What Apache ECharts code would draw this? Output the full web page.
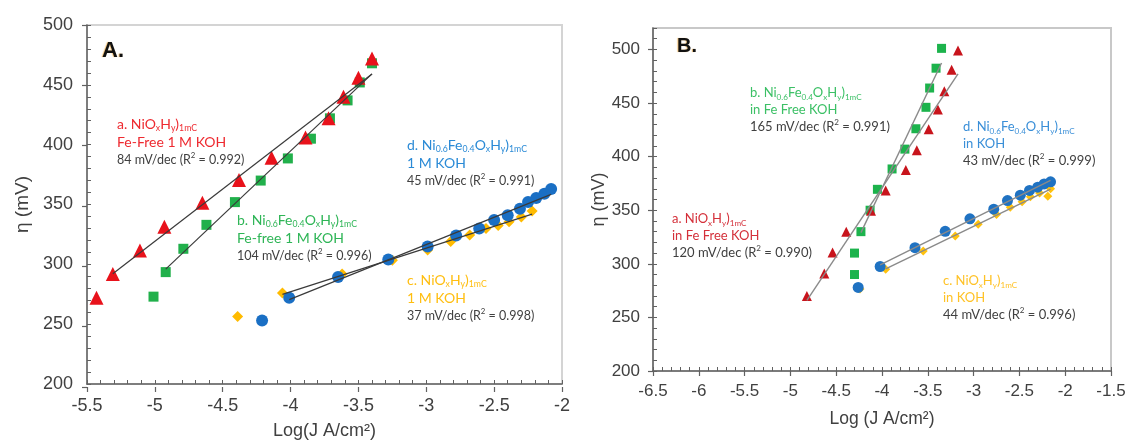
<!DOCTYPE html>
<html>
<head>
<meta charset="utf-8">
<script src="https://cdn.jsdelivr.net/npm/echarts@6/dist/echarts.min.js"></script>
<style>
  html, body { margin: 0; padding: 0; background: #fff; }
  #chart { width: 1129px; height: 445px; }
</style>
</head>
<body>
<div id="chart"></div>
<script>
// --- panel A data (log J, overpotential mV) ---
const aRedX = [-5.43, -5.31, -5.11, -4.93, -4.65, -4.38, -4.14, -3.89, -3.72, -3.61, -3.50, -3.40];
const aRedY = [272, 292, 311.5, 331.5, 351.5, 370.5, 389, 406, 422, 440, 456, 472];
const aGreenX = [-5.01, -4.92, -4.79, -4.62, -4.41, -4.22, -4.02, -3.85, -3.71, -3.58, -3.49, -3.40];
const aGreenY = [273, 293.5, 313, 333, 352, 370, 388.5, 405, 422, 437, 452, 468];
const aYellowX = [-4.39, -4.06, -3.62, -3.25, -2.99, -2.82, -2.68, -2.56, -2.47, -2.39, -2.30, -2.22];
const aYellowY = [256.5, 276, 292, 303.5, 312, 319, 324.5, 330, 332.5, 335.5, 339.5, 344.5];
const aBlueX = [-4.21, -4.01, -3.65, -3.28, -2.99, -2.78, -2.61, -2.50, -2.40, -2.31, -2.25, -2.19, -2.13, -2.08];
const aBlueY = [253, 272, 289.5, 304, 315, 324, 330, 337, 341, 346.5, 352, 355.5, 359, 363];

// --- panel B data ---
const bRedX = [-4.82, -4.63, -4.54, -4.39, -4.12, -3.96, -3.74, -3.62, -3.49, -3.39, -3.32, -3.24, -3.17];
const bRedY = [270, 291, 310.5, 330, 349.5, 368.5, 387.5, 406, 425.5, 444, 461, 481, 499];
const bGreenX = [-4.30, -4.30, -4.23, -4.13, -4.05, -3.89, -3.75, -3.63, -3.52, -3.48, -3.41, -3.35];
const bGreenY = [290, 310, 330, 350, 369.5, 388.5, 407, 426, 446, 464, 482.5, 501];
const bYellowX = [-4.24, -3.96, -3.55, -3.20, -2.95, -2.75, -2.60, -2.47, -2.38, -2.28, -2.19, -2.16];
const bYellowY = [276.5, 295, 312, 326, 336.8, 346, 352.7, 358, 362.5, 366, 363, 370];
const bBlueX = [-4.26, -4.02, -3.64, -3.31, -3.04, -2.78, -2.63, -2.49, -2.39, -2.30, -2.23, -2.16];
const bBlueY = [278, 297.5, 315, 330.3, 342, 351, 359, 364, 368.5, 371.5, 374.5, 376.5];

// first point used by each trendline
const fitFrom = { aRed: 1, aGreen: 1, aYellow: 1, aBlue: 1, bRed: 0, bGreen: 2, bYellow: 1, bBlue: 1 };

// --- tick labels ---
const aXTicks = [-5.5, -5, -4.5, -4, -3.5, -3, -2.5, -2];
const aYTicks = [200, 250, 300, 350, 400, 450, 500];
const bXTicks = [-6.5, -6, -5.5, -5, -4.5, -4, -3.5, -3, -2.5, -2, -1.5];
const bYTicks = [200, 250, 300, 350, 400, 450, 500];

const chart = echarts.init(document.getElementById('chart'));

function zip(xs, ys) {
  return xs.map((x, i) => [x, ys[i]]);
}

// least squares line over the points from index `from`
function fitLine(xs, ys, from) {
  const x = xs.slice(from), y = ys.slice(from);
  const n = x.length;
  const mx = x.reduce((s, v) => s + v, 0) / n;
  const my = y.reduce((s, v) => s + v, 0) / n;
  let sxy = 0, sxx = 0;
  for (let i = 0; i < n; i++) {
    sxy += (x[i] - mx) * (y[i] - my);
    sxx += (x[i] - mx) * (x[i] - mx);
  }
  const k = sxy / sxx, b = my - k * mx;
  const x0 = Math.min(...x), x1 = Math.max(...x);
  return [[x0, k * x0 + b], [x1, k * x1 + b]];
}

const AXIS_COLOR = '#616161';
const LABEL_COLOR = '#404040';
const FONT = '"Liberation Sans", Arial, sans-serif';
const NOTE_FONT = 'Lato, "Open Sans", sans-serif';

function mainAxis(grid, min, max, step, ticks, fontSize, margin, extra) {
  return Object.assign({
    type: 'value', gridIndex: grid, min: min, max: max, interval: step,
    axisLine: { show: true, onZero: false, lineStyle: { color: AXIS_COLOR, width: 1.5 } },
    axisTick: { show: true, inside: true, length: 4, lineStyle: { color: AXIS_COLOR, width: 1 } },
    axisLabel: { customValues: ticks, color: LABEL_COLOR, fontSize: fontSize, fontFamily: FONT, margin: margin },
    splitLine: { show: false }
  }, extra || {});
}

// second copy of an axis that only draws the outer half of the major ticks
function outerTicks(grid, min, max, ticks, isY) {
  return {
    type: 'value', gridIndex: grid, min: min, max: max,
    position: isY ? 'left' : 'bottom',
    axisLine: { show: false, onZero: false },
    axisTick: { show: true, inside: false, length: 5, customValues: ticks, lineStyle: { color: AXIS_COLOR, width: 1.2 } },
    axisLabel: { show: false },
    splitLine: { show: false }
  };
}

function scatter(name, xi, yi, xs, ys, symbol, size, color) {
  return {
    name: name, type: 'scatter', xAxisIndex: xi, yAxisIndex: yi,
    data: zip(xs, ys), symbol: symbol, symbolSize: size,
    itemStyle: { color: color, opacity: 1 }, z: 3
  };
}

function trend(xi, yi, xs, ys, from, color, width) {
  return {
    type: 'line', xAxisIndex: xi, yAxisIndex: yi,
    data: fitLine(xs, ys, from), showSymbol: false, symbol: 'none',
    lineStyle: { color: color, width: width }, z: 5, silent: true
  };
}

// rich text styles for the notes (graphic text uses zrender "fill")
function noteRich(color, size, graySize) {
  const sub = Math.round(size * 0.62 * 10) / 10;
  const gsub = Math.round(graySize * 0.62 * 10) / 10;
  return {
    t: { fill: color, fontSize: size, fontFamily: NOTE_FONT, lineHeight: size + 4 },
    s: { fill: color, fontSize: sub, fontFamily: NOTE_FONT, verticalAlign: 'bottom', lineHeight: sub + 1 },
    g: { fill: '#404040', fontSize: graySize, fontFamily: NOTE_FONT, lineHeight: size + 4 },
    sup: { fill: '#404040', fontSize: gsub, fontFamily: NOTE_FONT, verticalAlign: 'top', lineHeight: gsub + 1 }
  };
}

function note(left, top, lines, color, size, graySize) {
  return {
    type: 'text', left: left, top: top, z: 10,
    style: { text: lines.join('\n'), fill: color, rich: noteRich(color, size, graySize) }
  };
}

const NIOX = '{t|NiO}{s|x}{t|H}{s|y}{t|)}{s|1mC}';
const NIFE = '{t|Ni}{s|0.6}{t|Fe}{s|0.4}{t|O}{s|x}{t|H}{s|y}{t|)}{s|1mC}';
function slope(mv, r2) {
  return '{g|' + mv + ' mV/dec (R}{sup|2}{g| = ' + r2 + ')}';
}

const option = {
  animation: false,
  backgroundColor: '#fff',
  grid: [
    { left: 87, top: 25, width: 475, height: 362, show: true, borderColor: '#d4d4d4', borderWidth: 2, backgroundColor: 'transparent' },
    { left: 653, top: 28, width: 458, height: 343, show: true, borderColor: '#c8c8c8', borderWidth: 2, backgroundColor: 'transparent' },
    { left: 87, top: 25, width: 475, height: 362 },
    { left: 653, top: 28, width: 458, height: 343 }
  ],
  xAxis: [
    mainAxis(0, -5.5, -2, 0.1, aXTicks, 18, 13, {
      name: 'Log(J A/cm²)', nameLocation: 'middle', nameGap: 38,
      nameTextStyle: { color: LABEL_COLOR, fontSize: 18, fontFamily: FONT }
    }),
    mainAxis(1, -6.5, -1.5, 0.1, bXTicks, 17, 12, {
      name: 'Log (J A/cm²)', nameLocation: 'middle', nameGap: 39,
      nameTextStyle: { color: LABEL_COLOR, fontSize: 17.5, fontFamily: FONT }
    }),
    outerTicks(2, -5.5, -2, aXTicks, false),
    outerTicks(3, -6.5, -1.5, bXTicks, false)
  ],
  yAxis: [
    mainAxis(0, 200, 500, 10, aYTicks, 18, 14, {
      name: 'η (mV)', nameLocation: 'middle', nameGap: 55,
      nameTextStyle: { color: LABEL_COLOR, fontSize: 19, fontFamily: FONT }
    }),
    mainAxis(1, 200, 520, 10, bYTicks, 17, 13, {
      name: 'η (mV)', nameLocation: 'middle', nameGap: 41,
      nameTextStyle: { color: LABEL_COLOR, fontSize: 18, fontFamily: FONT }
    }),
    outerTicks(2, 200, 500, aYTicks, true),
    outerTicks(3, 200, 520, bYTicks, true)
  ],
  series: [
    // panel A
    scatter('A c', 0, 0, aYellowX, aYellowY, 'diamond', 11, '#ffbb00'),
    scatter('A d', 0, 0, aBlueX, aBlueY, 'circle', 12, '#1a6fc4'),
    scatter('A b', 0, 0, aGreenX, aGreenY, 'rect', 10, '#21b04b'),
    scatter('A a', 0, 0, aRedX, aRedY, 'triangle', 14, '#e8121b'),
    trend(0, 0, aRedX, aRedY, fitFrom.aRed, '#3a3a3a', 1.2),
    trend(0, 0, aGreenX, aGreenY, fitFrom.aGreen, '#3a3a3a', 1.2),
    trend(0, 0, aYellowX, aYellowY, fitFrom.aYellow, '#3a3a3a', 1.2),
    trend(0, 0, aBlueX, aBlueY, fitFrom.aBlue, '#3a3a3a', 1.2),
    // panel B
    scatter('B c', 1, 1, bYellowX, bYellowY, 'diamond', 9, '#ffc20e'),
    scatter('B d', 1, 1, bBlueX, bBlueY, 'circle', 11, '#1f72c2'),
    scatter('B b', 1, 1, bGreenX, bGreenY, 'rect', 9, '#1cb34c'),
    scatter('B a', 1, 1, bRedX, bRedY, 'triangle', 10, '#c8141c'),
    trend(1, 1, bRedX, bRedY, fitFrom.bRed, '#8a8a8a', 1.4),
    trend(1, 1, bGreenX, bGreenY, fitFrom.bGreen, '#8a8a8a', 1.4),
    trend(1, 1, bYellowX, bYellowY, fitFrom.bYellow, '#8a8a8a', 1.4),
    trend(1, 1, bBlueX, bBlueY, fitFrom.bBlue, '#8a8a8a', 1.4)
  ],
  graphic: [
    { type: 'text', left: 102, top: 40, z: 10,
      style: { text: 'A.', fontSize: 22, fontWeight: 'bold', fontFamily: FONT, fill: '#111',
               textShadowColor: 'rgba(240,160,40,0.6)', textShadowOffsetX: -1, textShadowBlur: 1 } },
    { type: 'text', left: 677, top: 36, z: 10,
      style: { text: 'B.', fontSize: 20, fontWeight: 'bold', fontFamily: FONT, fill: '#111',
               textShadowColor: 'rgba(240,160,40,0.6)', textShadowOffsetX: -1, textShadowBlur: 1 } },
    // panel A notes
    note(117, 117, ['{t|a. }' + NIOX, '{t|Fe-Free 1 M KOH}', slope(84, '0.992')], '#ee2a30', 14, 12.5),
    note(237, 213, ['{t|b. }' + NIFE, '{t|Fe-free 1 M KOH}', slope(104, '0.996')], '#2eb556', 14, 12.5),
    note(407, 138, ['{t|d. }' + NIFE, '{t|1 M KOH}', slope(45, '0.991')], '#2a8ad6', 14, 12.5),
    note(407, 273, ['{t|c. }' + NIOX, '{t|1 M KOH}', slope(37, '0.998')], '#ffbe10', 14, 12.5),
    // panel B notes
    note(750, 86, ['{t|b. }' + NIFE, '{t|in Fe Free KOH}', slope(165, '0.991')], '#3cc066', 13, 13),
    note(672, 212, ['{t|a. }' + NIOX, '{t|in Fe Free KOH}', slope(120, '0.990')], '#d4303a', 13, 13),
    note(963, 120, ['{t|d. }' + NIFE, '{t|in KOH}', slope(43, '0.999')], '#3a8fd8', 13, 13),
    note(943, 274, ['{t|c. }' + NIOX, '{t|in KOH}', slope(44, '0.996')], '#ffc226', 13, 13)
  ]
};

chart.setOption(option);
</script>
</body>
</html>
